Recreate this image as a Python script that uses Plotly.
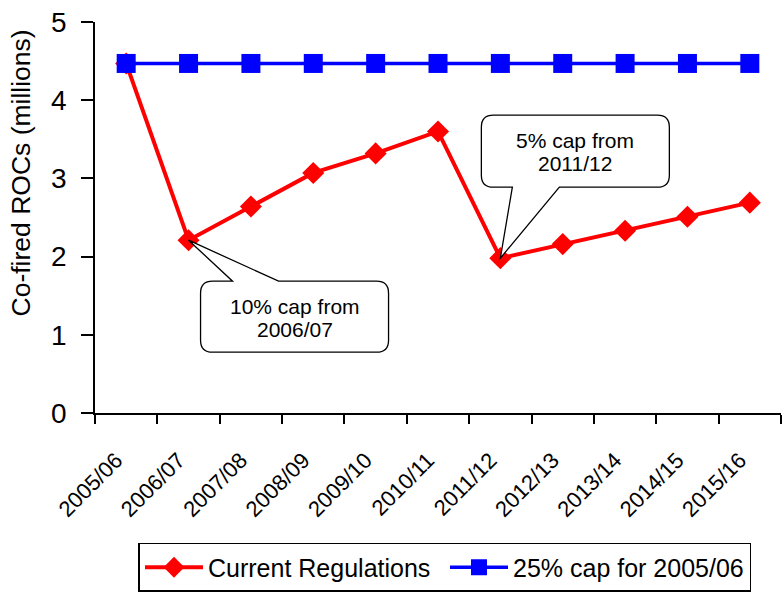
import plotly.graph_objects as go

categories = ["2005/06", "2006/07", "2007/08", "2008/09", "2009/10", "2010/11",
              "2011/12", "2012/13", "2013/14", "2014/15", "2015/16"]
current_regs = [4.47, 2.21, 2.64, 3.07, 3.32, 3.60, 1.98, 2.16, 2.33, 2.51, 2.69]
cap_25 = [4.47, 4.47, 4.47, 4.47, 4.47, 4.47, 4.47, 4.47, 4.47, 4.47, 4.47]

y_ticks = [0, 1, 2, 3, 4, 5]
callouts = [
    ("2006/07", ["10% cap from", "2006/07"]),
    ("2011/12", ["5% cap from", "2011/12"]),
]

SANS = "Liberation Sans, Arial, sans-serif"

fig = go.Figure()
fig.add_trace(go.Scatter(
    x=categories, y=current_regs, name="Current Regulations", mode="lines+markers",
    line=dict(color="#ff0000", width=4),
    marker=dict(symbol="diamond", size=17, color="#ff0000"),
))
fig.add_trace(go.Scatter(
    x=categories, y=cap_25, name="25% cap for 2005/06", mode="lines+markers",
    line=dict(color="#0000ff", width=3.5),
    marker=dict(symbol="square", size=19, color="#0000ff"),
))


def rounded_callout(left, right, top, bottom, wl, wr, r):
    # pixel offsets relative to the tip (y up)
    if top < 0:  # box below the tip: wedge attaches to the top edge
        return (f"M0,0 L{wr},{top} L{right - r},{top} Q{right},{top} {right},{top - r} "
                f"L{right},{bottom + r} Q{right},{bottom} {right - r},{bottom} "
                f"L{left + r},{bottom} Q{left},{bottom} {left},{bottom + r} "
                f"L{left},{top - r} Q{left},{top} {left + r},{top} L{wl},{top} Z")
    # box above tip: wedge attaches to bottom edge
    return (f"M0,0 L{wl},{bottom} L{left + r},{bottom} Q{left},{bottom} {left},{bottom + r} "
            f"L{left},{top - r} Q{left},{top} {left + r},{top} "
            f"L{right - r},{top} Q{right},{top} {right},{top - r} "
            f"L{right},{bottom + r} Q{right},{bottom} {right - r},{bottom} L{wr},{bottom} Z")


geoms = [
    dict(left=12, right=200, top=-41, bottom=-112, wl=44, wr=90, cx=106, cy=-78),
    dict(left=-19, right=169, top=143, bottom=71, wl=12, wr=59, cx=75, cy=106),
]

for (cat, lines), g in zip(callouts, geoms):
    idx = categories.index(cat)
    val = current_regs[idx]
    fig.add_shape(
        type="path", xref="x", yref="y", xsizemode="pixel", ysizemode="pixel",
        xanchor=idx, yanchor=val,
        path=rounded_callout(g["left"], g["right"], g["top"], g["bottom"], g["wl"], g["wr"], 12),
        line=dict(color="black", width=1.3), fillcolor="white", layer="above",
    )
    for k, t in enumerate(lines):
        fig.add_annotation(
            x=idx, y=val, xref="x", yref="y", text=t, showarrow=False,
            xshift=g["cx"], yshift=g["cy"] + 11.5 - 23 * k,
            font=dict(family=SANS, size=21, color="black"),
            xanchor="center", yanchor="middle",
        )

fig.add_annotation(
    text="Co-fired ROCs (millions)", textangle=-90, showarrow=False,
    xref="paper", yref="paper", x=-0.108, y=0.615, xanchor="center", yanchor="middle",
    font=dict(family=SANS, size=26.5, color="black"),
)

fig.update_layout(
    width=784, height=595,
    margin=dict(l=95, r=3, t=22, b=182, autoexpand=False),
    paper_bgcolor="white", plot_bgcolor="white",
    showlegend=True,
    legend=dict(
        orientation="h", xref="container", yref="container",
        x=0.5676, y=0.0874, xanchor="center", yanchor="top",
        font=dict(family=SANS, size=25, color="black"),
        bordercolor="black", borderwidth=1.5, bgcolor="white",
        itemwidth=58, entrywidth=232, entrywidthmode="pixels", tracegroupgap=0,
    ),
    xaxis=dict(
        type="category", range=[-0.5, 10.5], tickson="boundaries",
        showline=True, linecolor="black", linewidth=1.5,
        ticks="outside", ticklen=9, tickcolor="black", tickwidth=1.5,
        showgrid=False, zeroline=False, tickangle=-45,
        tickfont=dict(family=SANS, size=22, color="black"),
        ticklabelstandoff=24, ticklabelshift=-10,
    ),
    yaxis=dict(
        range=[0, 5], tickvals=y_ticks,
        showline=True, linecolor="black", linewidth=1.5,
        ticks="outside", ticklen=12, tickcolor="black", tickwidth=1.5,
        showgrid=False, zeroline=False,
        tickfont=dict(family=SANS, size=28, color="black"),
        ticklabelstandoff=9,
    ),
)

fig.write_html(
    "out.html",
    config={"displayModeBar": False},
    post_script="document.body.style.margin='0';document.body.style.overflow='hidden';",
)
